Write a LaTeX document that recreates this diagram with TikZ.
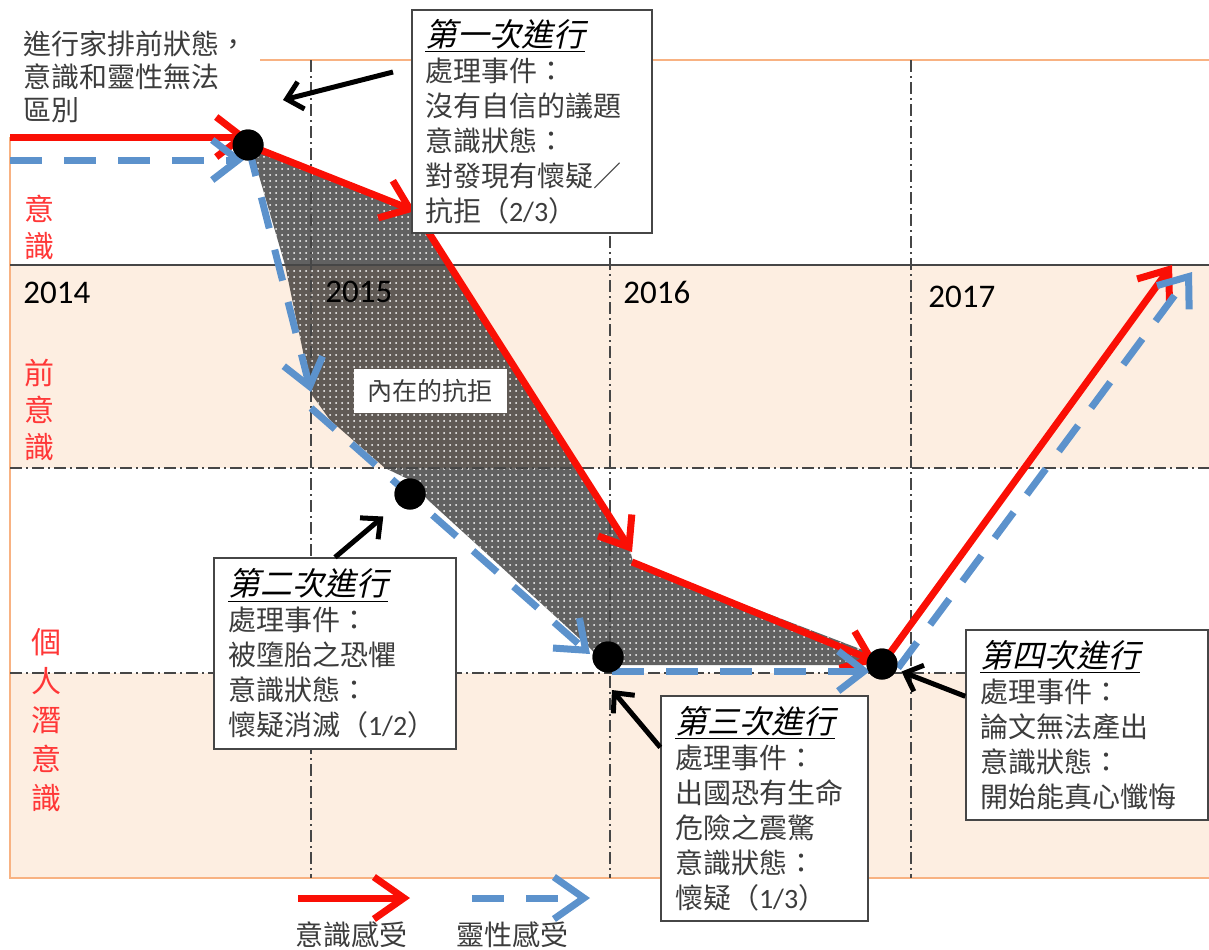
\documentclass[tikz,border=0pt]{standalone}
\usepackage{fontspec}
\setmainfont{Carlito}
\newfontfamily\cjk{Noto Sans CJK TC}
\newfontfamily\cjkit[FakeSlant=0.22]{Noto Sans CJK TC}
\newfontfamily\carl{Carlito}
\usetikzlibrary{arrows.meta,patterns,calc}
\definecolor{peach}{RGB}{253,238,225}
\definecolor{frameor}{RGB}{248,178,130}
\definecolor{lred}{RGB}{250,15,5}
\definecolor{lblue}{RGB}{92,146,204}
\definecolor{zred}{RGB}{255,55,55}
\definecolor{txt}{RGB}{60,60,60}
\definecolor{gridc}{RGB}{70,70,70}
\newcommand{\boxtitle}[1]{{\color{black}\fontsize{16}{17.5}\selectfont\underline{\cjkit #1}}}
\newcommand{\ratiotxt}[1]{{\carl #1}}
\tikzset{
  redarrow/.style={draw=lred, line width=3.5pt, -{Straight Barb[length=13pt,width=20pt]}},
  bluearrow/.style={draw=lblue, line width=3.5pt, dash pattern=on 16pt off 11pt, -{Straight Barb[length=13pt,width=20pt]}},
  ptr/.style={draw=black, line width=2.5pt, -{Straight Barb[length=7.5pt,width=14pt]}},
  dotnode/.style={circle, fill=black, minimum size=15.5pt, inner sep=0pt},
  boxnode/.style={draw=gridc, line width=0.7pt, fill=white, align=left, font=\cjk\fontsize{14}{17.5}\selectfont, text=txt, inner ysep=0pt},
  yearlbl/.style={font=\carl\fontsize{16.5}{18}\selectfont, text=black, anchor=west, inner sep=0pt},
  zonelbl/.style={font=\cjk\fontsize{15}{18.5}\selectfont, text=zred, align=center, inner sep=0pt},
  dashdot/.style={draw=gridc, line width=0.8pt, dash pattern=on 6pt off 2pt on 1pt off 2pt},
  frameline/.style={draw=frameor, line width=1.2pt},
  plaintext/.style={font=\cjk\fontsize{14}{16.5}\selectfont, text=txt, inner sep=0pt},
}
\begin{document}
\begin{tikzpicture}[x=0.5pt,y=-0.5pt]
\useasboundingbox (0,0) rectangle (1209,949);
% bands
\fill[peach] (10,265) rectangle (1209,468);
\fill[peach] (10,673) rectangle (1209,878);
% frame
\draw[frameline] (260,60) -- (1209,60);
\draw[frameline] (10,137) -- (10,878) -- (1209,878);
% shaded area
\fill[black, fill opacity=0.62] (250,145) -- (415,212) -- (630,550) -- (633,562) -- (868,652) -- (866,665) -- (605,665) -- (590,648) -- (428,500) -- (410,480) -- (385,468) -- (330,420) -- (312,395) -- (285,265) -- cycle;
\fill[pattern=dots, pattern color=white] (250,145) -- (415,212) -- (630,550) -- (633,562) -- (868,652) -- (866,665) -- (605,665) -- (590,648) -- (428,500) -- (410,480) -- (385,468) -- (330,420) -- (312,395) -- (285,265) -- cycle;
% grid
\draw[draw=gridc, line width=0.9pt] (10,265) -- (1209,265);
\draw[dashdot] (10,468) -- (1209,468);
\draw[dashdot] (10,673) -- (1209,673);
\foreach \x in {311,610,911} \draw[dashdot] (\x,60) -- (\x,878);
% years
\node[yearlbl] (y14) at (23,293) {2014};
\node[yearlbl] (y15) at (325,292) {2015};
\node[yearlbl] (y16) at (623,292) {2016};
\node[yearlbl] (y17) at (928,297) {2017};
% zone labels
\node[zonelbl] (z1) at (40,227) {意\\識};
\node[zonelbl] (z2) at (40,410) {前\\意\\識};
\node[zonelbl, font=\cjk\fontsize{15}{19.5}\selectfont] (z3) at (47,720) {個\\人\\潛\\意\\識};
% inner label
\node[fill=white, text=txt, font=\cjk\fontsize{12.5}{15}\selectfont, minimum width=76.5pt, minimum height=22pt, inner sep=0pt] (inner) at (430,391) {內在的抗拒};
% pre text
\node[plaintext, align=left, anchor=west] (pre) at (23,77) {進行家排前狀態，\\意識和靈性無法\\區別};
% coordinates
\coordinate (rS) at (10,137);
\coordinate (bS) at (10,160);
\coordinate (rk1) at (415,211);
\coordinate (rk2) at (632,552);
\coordinate (rk3) at (632,562);
\coordinate (rk4) at (1172,265);
\coordinate (bk1) at (311,392);
\coordinate (bk1b) at (311,408);
\coordinate (bk2) at (590,654);
\coordinate (bk3) at (612,671);
\coordinate (bk4) at (898,668);
\coordinate (bk4e) at (1192,272);
% dots (positions)
\node[dotnode] (d1) at (248,145) {};
\node[dotnode] (d2) at (410,494) {};
\node[dotnode] (d3) at (608,657) {};
\node[dotnode] (d4) at (882,664) {};
% red path
\draw[redarrow] (rS) -- (rS -| d1) ;
\draw[redarrow] (d1.center) -- (rk1);
\draw[redarrow] (rk1) -- (rk2);
\draw[redarrow, shorten >=3pt] (rk3) -- (d4.center);
\draw[redarrow] (d4.center) -- (rk4);
% blue path
\draw[bluearrow, shorten >=2pt] (bS) -- (bS -| d1);
\draw[bluearrow] (d1.center) -- (bk1);
\draw[bluearrow] (bk1b) -- (bk2);
\draw[bluearrow, shorten >=6pt] (bk3) -- (bk3 -| d4);
\draw[bluearrow] (bk4) -- (bk4e);
% dots drawn on top
\node[dotnode] at (d1) {};
\node[dotnode] at (d2) {};
\node[dotnode] at (d3) {};
\node[dotnode] at (d4) {};
% boxes
\node[boxnode, text width=107pt, inner xsep=6.5pt, minimum height=111.5pt] (box1) at (532,121.5)
  {\boxtitle{第一次進行}\\處理事件：\\沒有自信的議題\\意識狀態：\\對發現有懷疑／\\抗拒（\ratiotxt{2/3}）};
\node[boxnode, text width=107pt, inner xsep=7pt, minimum height=95.5pt] (box2) at (335,653.5)
  {\boxtitle{第二次進行}\\處理事件：\\被墮胎之恐懼\\意識狀態：\\懷疑消滅（\ratiotxt{1/2}）};
\node[boxnode, text width=89.5pt, inner xsep=7pt, minimum height=112.5pt] (box3) at (764.5,808.5)
  {\boxtitle{第三次進行}\\處理事件：\\出國恐有生命\\危險之震驚\\意識狀態：\\懷疑（\ratiotxt{1/3}）};
\node[boxnode, text width=107pt, inner xsep=7pt, minimum height=95pt] (box4) at (1087,725)
  {\boxtitle{第四次進行}\\處理事件：\\論文無法產出\\意識狀態：\\開始能真心懺悔};
% pointers
\coordinate (a1s) at (393,72);
\coordinate (a1e) at (283,100);
\draw[ptr] (a1s) -- (a1e);
\draw[ptr, shorten >=9.5pt] (box2.north) -- (d2);
\coordinate (a3s) at ($(box3.north west)!0.23!(box3.south west)$);
\coordinate (a3e) at (612,690);
\draw[ptr] (a3s) -- (a3e);
\coordinate (a4s) at ($(box4.north west)!0.35!(box4.south west)$);
\draw[ptr, shorten >=2.5pt] (a4s) -- (d4);
% legend
\coordinate (lr1) at (298,898);
\coordinate (lr2) at (410,898);
\coordinate (lb1) at (472,898);
\coordinate (lb2) at (590,898);
\draw[redarrow, -{Straight Barb[length=15pt,width=21pt]}] (lr1) -- (lr2);
\draw[bluearrow, -{Straight Barb[length=15pt,width=21pt]}] (lb1) -- (lb2);
\node[plaintext] (lgr) at (351,935) {意識感受};
\node[plaintext] (lgb) at (512,935) {靈性感受};
\end{tikzpicture}
\end{document}
